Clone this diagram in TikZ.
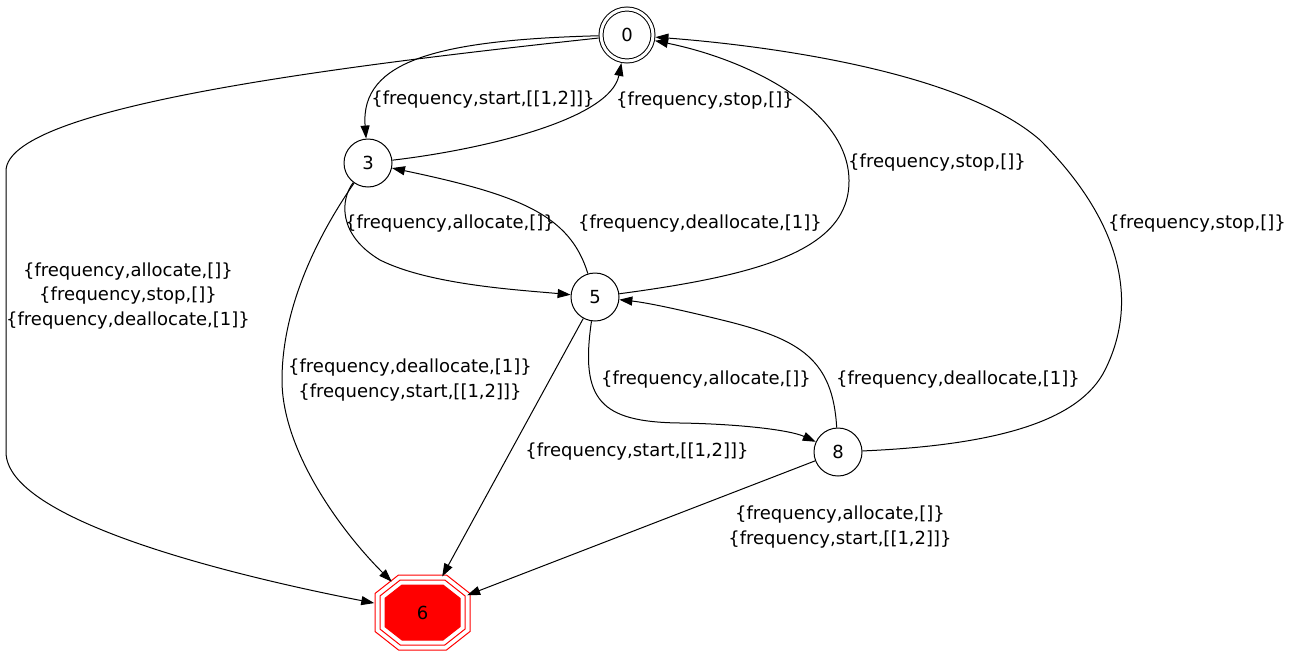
\documentclass[tikz,border=0pt]{standalone}
\usepackage{fontspec}
\setmainfont{DejaVu Sans}
\usetikzlibrary{arrows.meta,shapes.geometric,backgrounds}

\begin{document}
\begin{tikzpicture}[x=1pt, y=-1pt,
		state/.style={circle, draw, line width=1pt, minimum size=48pt, inner sep=0pt,
								font=\fontsize{18}{22}\selectfont},
		accept/.style={state, double, double distance=3pt, minimum size=52pt, outer sep=2.5pt},
		trap/.style={ellipse, minimum width=99pt, minimum height=78pt, inner sep=0pt,
								font=\fontsize{18}{22}\selectfont},
		octa/.style={draw=red, line width=1pt},
		trans/.style={-{Triangle[length=13pt, width=9pt]}, line width=1pt},
		lab/.style={align=center, inner sep=0pt, font=\fontsize{18}{24.5}\selectfont},
	]
		\useasboundingbox (0,0) rectangle (1296,656);

		% states
		\node[accept] (s0) at (627,35) {0};
		\node[state] (s3) at (368,163) {3};
		\node[state] (s5) at (595,297) {5};
		\node[state] (s8) at (838,452) {8};
		\node[trap] (s6) at (422.5,612.5) {6};

		% trap state outline
		\begin{scope}[on background layer, shift={(s6.center)}]
			\foreach \w/\h/\a/\b in {47.5/37.5/24/19, 42.5/32.5/22.3/16.6}
				\draw[octa] (\a,\h) -- (-\a,\h) -- (-\w,\b) -- (-\w,-\b) -- (-\a,-\h) -- (\a,-\h) -- (\w,-\b) -- (\w,\b) -- cycle;
			\draw[octa, fill=red] (20.5,27.5) -- (-20.5,27.5) -- (-37.5,14.2) -- (-37.5,-14.2)
				-- (-20.5,-27.5) -- (20.5,-27.5) -- (37.5,-14.2) -- (37.5,14.2) -- cycle;
		\end{scope}

		% labels
		\node[lab] (lab03) at (483,100) {\{frequency,start,[[1,2]]\}};
		\node[lab] (lab30) at (705,101) {\{frequency,stop,[]\}};
		\node[lab] (lab50) at (937,163) {\{frequency,stop,[]\}};
		\node[lab] (lab80) at (1197,224) {\{frequency,stop,[]\}};
		\node[lab] (lab35) at (450,224) {\{frequency,allocate,[]\}};
		\node[lab] (lab53) at (700,224) {\{frequency,deallocate,[1]\}};
		\node[lab] (lab06) at (128,296)
			{\{frequency,allocate,[]\}\\\{frequency,stop,[]\}\\\{frequency,deallocate,[1]\}};
		\node[lab] (lab36) at (410,380) {\{frequency,deallocate,[1]\}\\\{frequency,start,[[1,2]]\}};
		\node[lab] (lab58) at (706,380) {\{frequency,allocate,[]\}};
		\node[lab] (lab85) at (958,380) {\{frequency,deallocate,[1]\}};
		\node[lab] (lab56) at (637,452) {\{frequency,start,[[1,2]]\}};
		\node[lab] (lab86) at (840,527) {\{frequency,allocate,[]\}\\\{frequency,start,[[1,2]]\}};

		% transitions
		\draw[trans] (s0) .. controls (440,40) and (360,60) .. (s3);
		\draw[trans] (s3) .. controls (480,150) and (610,120) .. (s0);
		\draw[trans] (s0) .. controls (300,70) and (10,110) .. (6,170) -- (6,452)
			.. controls (6,520) and (230,575) .. (s6);
		\draw[trans] (s3) .. controls (340,200) and (338,235) .. (380,260)
			.. controls (430,285) and (520,290) .. (s5);
		\draw[trans] (s5) .. controls (570,215) and (520,195) .. (s3);
		\draw[trans] (s3) .. controls (325,225) and (282,300) .. (282,380)
			.. controls (282,450) and (340,530) .. (s6);
		\draw[trans] (s5) .. controls (760,275) and (850,250) .. (849,180)
			.. controls (848,110) and (750,60) .. (s0);
		\draw[trans] (s8) .. controls (1000,445) and (1080,420) .. (1105,370)
			.. controls (1140,300) and (1120,220) .. (1040,140)
			.. controls (960,70) and (760,45) .. (s0);
		\draw[trans] (s5) .. controls (580,400) and (600,422) .. (680,423)
			.. controls (740,424) and (790,430) .. (s8);
		\draw[trans] (s8) .. controls (833,360) and (800,340) .. (730,322)
			.. controls (690,312) and (650,303) .. (s5);
		\draw[trans] (s5) -- (s6);
		\draw[trans] (s8) -- (s6);
	\end{tikzpicture}
\end{document}
